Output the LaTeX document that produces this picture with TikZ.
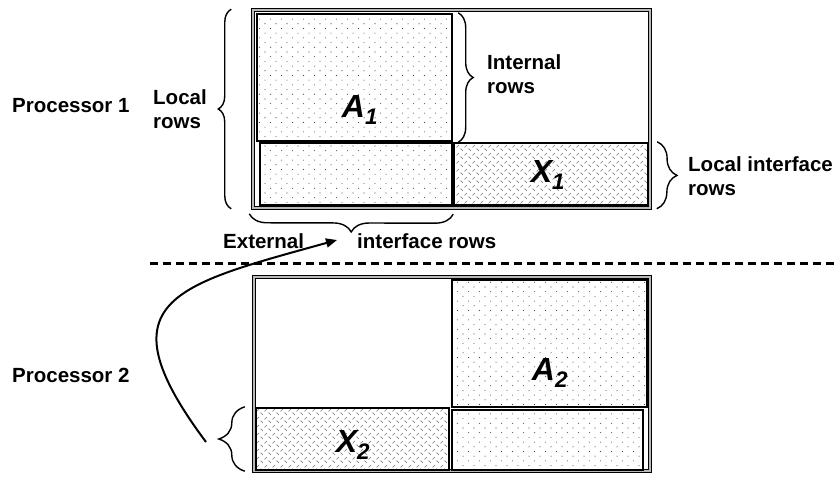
\documentclass[tikz,border=0pt]{standalone}
\usepackage{fontspec}
\setmainfont{Liberation Sans}
\usetikzlibrary{arrows.meta,patterns,decorations.pathreplacing}

\pgfdeclarepatternformonly{sparsedots}{\pgfqpoint{-1pt}{-1pt}}{\pgfqpoint{12pt}{10pt}}{\pgfqpoint{11pt}{9.4pt}}{%
	\pgfpathcircle{\pgfqpoint{1pt}{1pt}}{0.55pt}
	\pgfpathcircle{\pgfqpoint{6.5pt}{5.7pt}}{0.55pt}
	\pgfusepath{fill}}
\pgfdeclarepatternformonly{plate}{\pgfqpoint{-1pt}{-1pt}}{\pgfqpoint{9pt}{9pt}}{\pgfqpoint{8pt}{8pt}}{%
	\pgfsetlinewidth{0.5pt}
	\pgfpathmoveto{\pgfqpoint{0.5pt}{0.5pt}}\pgfpathlineto{\pgfqpoint{3pt}{3pt}}
	\pgfpathmoveto{\pgfqpoint{4.5pt}{7.5pt}}\pgfpathlineto{\pgfqpoint{7pt}{5pt}}
	\pgfusepath{stroke}}

\begin{document}
\begin{tikzpicture}[x=1pt,y=-1pt]
			\tikzset{frame/.style={draw,line width=1.5pt,double=gray!55,double distance=1.4pt,inner sep=0pt}}
			\tikzset{block/.style={draw,line width=2.4pt,inner sep=0pt}}
			\tikzset{dotfill/.style={pattern=sparsedots,pattern color=black!70}}
			\tikzset{platefill/.style={pattern=plate,pattern color=black!55}}
			\tikzset{txt/.style={font=\fontsize{20.5}{24}\selectfont\bfseries,inner sep=0pt,align=left}}
			\tikzset{big/.style={font=\fontsize{32}{34}\selectfont\bfseries\itshape,inner sep=0pt}}
			\tikzset{curly/.style={draw,line width=1.4pt,decorate,decoration={brace,amplitude=#1}}}
			\tikzset{arrow/.style={draw,line width=2pt,-{Triangle[length=11pt,width=9pt]}}}
			\tikzset{dashline/.style={draw,line width=3pt,dash pattern=on 8pt off 5pt}}

			\useasboundingbox (0,0) rectangle (837,476);

			% Processor 1
			\node[frame,minimum width=397pt,minimum height=198pt] (M1) at (451.5,109) {};
			\node[block,dotfill,minimum width=195pt,minimum height=127pt] (A1) at (354.5,77.5) {};
			\node[block,dotfill,minimum width=192pt,minimum height=62pt] (B1) at (356,174) {};
			\node[block,platefill,minimum width=194pt,minimum height=62pt] (X1) at (551,174) {};

			% Processor 2
			\node[frame,minimum width=396pt,minimum height=194pt] (M2) at (452,374) {};
			\node[block,dotfill,minimum width=195pt,minimum height=127pt] (A2) at (549.5,343.5) {};
			\node[block,platefill,minimum width=193pt,minimum height=62pt] (X2) at (352.5,439) {};
			\node[block,dotfill,minimum width=191pt,minimum height=60pt] (B2) at (547.5,440) {};

			\node[big] (a1) at (360,110) {A\textsubscript{1}};
			\node[big] (x1) at (548,175) {X\textsubscript{1}};
			\node[big] (a2) at (550,373) {A\textsubscript{2}};
			\node[big] (x2) at (353,445) {X\textsubscript{2}};

			\node[txt,anchor=west] (p1) at (12,106) {Processor 1};
			\node[txt,anchor=west] (p2) at (12,375) {Processor 2};
			\node[txt,anchor=west] (lrows) at (153,109) {Local\\rows};
			\node[txt,anchor=west] (irows) at (487,74) {Internal\\rows};
			\node[txt,anchor=west] (lirows) at (688,176) {Local interface\\rows};
			\node[txt,anchor=west] (ext) at (223,241) {External};
			\node[txt,anchor=west] (eirows) at (357,241) {interface rows};

			\path[curly=13] ([xshift=-21pt]M1.south west) to ([xshift=-21pt]M1.north west);
			\path[curly=15] ([xshift=5pt]A1.north east) to ([xshift=5pt]A1.south east);
			\path[curly=20] ([xshift=8pt]X1.north east) to ([xshift=6pt]M1.south east);
			\path[curly=18] ([yshift=-8pt]B1.south east) to ([xshift=-3pt,yshift=-5pt]M1.south west);
			\path[curly=26] ([xshift=-10pt]X2.south west) to ([xshift=-10pt]X2.north west);

			\coordinate (dl1) at (150,263);
			\coordinate (dl2) at (837,263);
			\path[dashline] (dl1) -- (dl2);

			\coordinate (tail) at (206,442);
			\coordinate (head) at (337,240);
			\path[arrow] (tail) .. controls (100,300) and (175,285) .. (head);
		\end{tikzpicture}
\end{document}
